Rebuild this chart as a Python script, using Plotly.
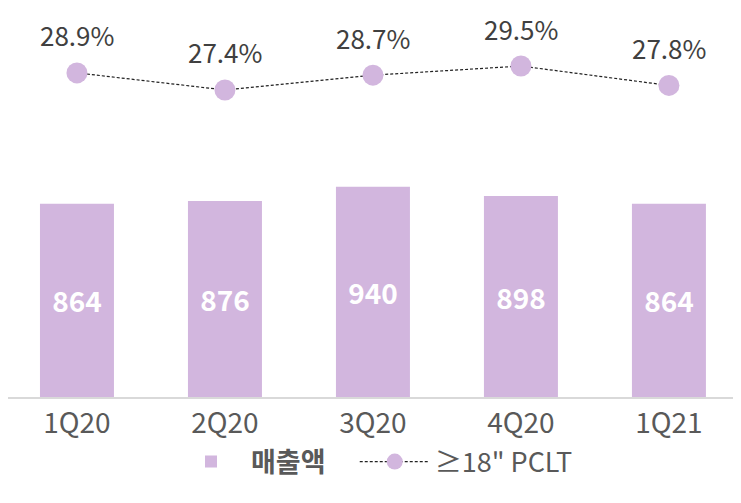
import plotly.graph_objects as go

categories = ["1Q20", "2Q20", "3Q20", "4Q20", "1Q21"]
sales = [864, 876, 940, 898, 864]
pclt_share = [28.9, 27.4, 28.7, 29.5, 27.8]
bar_name = "<b>매출액</b>\u00a0\u00a0\u00a0\u00a0"
line_name = "≥18\" PCLT"

purple = "#D2B6DE"
font_family = "Noto Sans CJK KR, Noto Sans, sans-serif"

fig = go.Figure()
fig.add_trace(go.Bar(
    x=categories, y=sales, name=bar_name,
    marker=dict(color=purple, line=dict(width=0)),
    width=0.5,
    text=[str(v) for v in sales],
    textposition="inside", insidetextanchor="middle",
    textfont=dict(color="white", size=28, family=font_family, weight="bold"),
    textangle=0,
))
fig.add_trace(go.Scatter(
    x=categories, y=pclt_share, name=line_name, yaxis="y2",
    mode="lines+markers",
    line=dict(color="#222222", width=1.2, dash="3px,2px"),
    marker=dict(color=purple, size=21),
))
for c, v in zip(categories, pclt_share):
    fig.add_annotation(
        x=c, y=v, yref="y2", text=f"{v:.1f}%", showarrow=False,
        yshift=38, font=dict(size=26, color="#404040", family=font_family),
    )

fig.update_layout(
    width=733, height=495,
    margin=dict(l=0, r=0, t=4, b=106),
    paper_bgcolor="white", plot_bgcolor="white",
    font=dict(family=font_family, color="#595959"),
    showlegend=True,
    legend=dict(
        orientation="h", x=0.5, xanchor="center", y=-0.169, yanchor="middle",
        font=dict(size=27, color="#595959", family=font_family),
        traceorder="normal", itemwidth=70,
    ),
    xaxis=dict(
        range=[-0.466, 4.487],
        showline=True, linecolor="#D9D9D9", linewidth=2,
        showgrid=False, ticks="", ticklen=0,
        tickfont=dict(size=28, color="#595959", family=font_family),
    ),
    yaxis=dict(range=[0, 1721], visible=False, showgrid=False, zeroline=False),
    yaxis2=dict(range=[0.47, 34.24], overlaying="y", visible=False,
                showgrid=False, zeroline=False),
)

fig.write_html("out.html")
